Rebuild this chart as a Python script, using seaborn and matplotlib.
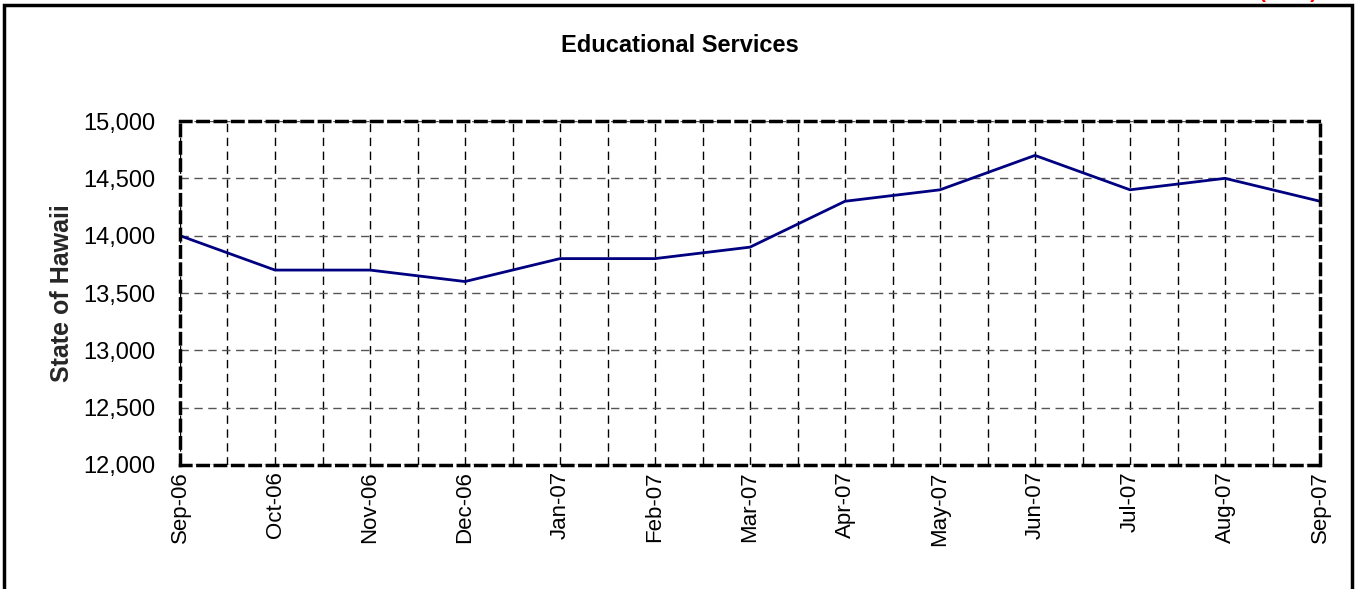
import numpy as np
import pandas as pd
import seaborn as sns
import matplotlib
matplotlib.use("Agg")
import matplotlib.pyplot as plt
from matplotlib.patches import Rectangle

# Educational Services jobs, State of Hawaii
months = ["Sep-06", "Oct-06", "Nov-06", "Dec-06", "Jan-07", "Feb-07", "Mar-07",
          "Apr-07", "May-07", "Jun-07", "Jul-07", "Aug-07", "Sep-07"]
jobs = [14000, 13700, 13700, 13600, 13800, 13800, 13900,
        14300, 14400, 14700, 14400, 14500, 14300]
y_ticks = [12000, 12500, 13000, 13500, 14000, 14500, 15000]

df = pd.DataFrame({"idx": np.arange(len(months)), "jobs": jobs})

sns.set_style("white")
plt.rcParams["font.family"] = ["Liberation Sans", "DejaVu Sans"]
plt.rcParams["text.color"] = "black"
plt.rcParams["xtick.color"] = "black"
plt.rcParams["ytick.color"] = "black"

fig = plt.figure(figsize=(13.61, 5.89), dpi=100)
ax = fig.add_axes([180 / 1361, 1 - 465 / 589, 1140 / 1361, 344 / 589])

sns.lineplot(data=df, x="idx", y="jobs", color="#000080", linewidth=2, ax=ax)

ax.set_xlim(0, len(months) - 1)
ax.set_ylim(12000, 15000)
ax.set_yticks(y_ticks)
ax.set_yticklabels([f"{v:,}" for v in y_ticks], fontsize=17)
ax.set_xticks(np.arange(len(months)))
ax.set_xticklabels(months, rotation=90, fontsize=16)
ax.set_xticks(np.arange(0.5, len(months) - 1, 1), minor=True)

ax.grid(True, which="major", axis="y", color="#555555", linestyle=(0, (6, 4)), linewidth=1)
ax.grid(True, which="both", axis="x", color="black", linestyle=(0, (6, 4)), linewidth=1)
ax.tick_params(axis="both", which="major", direction="inout", length=9, width=1,
               color="#555555")
ax.tick_params(axis="x", which="major", pad=0)
ax.tick_params(axis="y", which="major", pad=13)
ax.tick_params(axis="x", which="minor", length=0)

for s in ax.spines.values():
    s.set_linestyle((0, (3, 2)))
    s.set_linewidth(2.5)
    s.set_color("black")

ax.set_xlabel("")
ax.set_ylabel("State of Hawaii", fontsize=18, fontweight="bold", labelpad=7)
fig.text(680 / 1361, 1 - 46 / 589, "Educational Services", ha="center", va="center",
         fontsize=17, fontweight="bold")

# outer frame, open at the bottom edge
fig.patches.append(Rectangle((4 / 1361, -0.05), 1348 / 1361, 1.05 - 5 / 589,
                             transform=fig.transFigure, fill=False,
                             edgecolor="black", linewidth=2.5))
# red note cut off by the top edge, as in the source
fig.text(1288 / 1361, 1 + 2 / 589, "(NSA)", ha="center", va="baseline", color="red",
         fontsize=15, fontweight="bold")

fig.savefig("out.png", dpi=100)
